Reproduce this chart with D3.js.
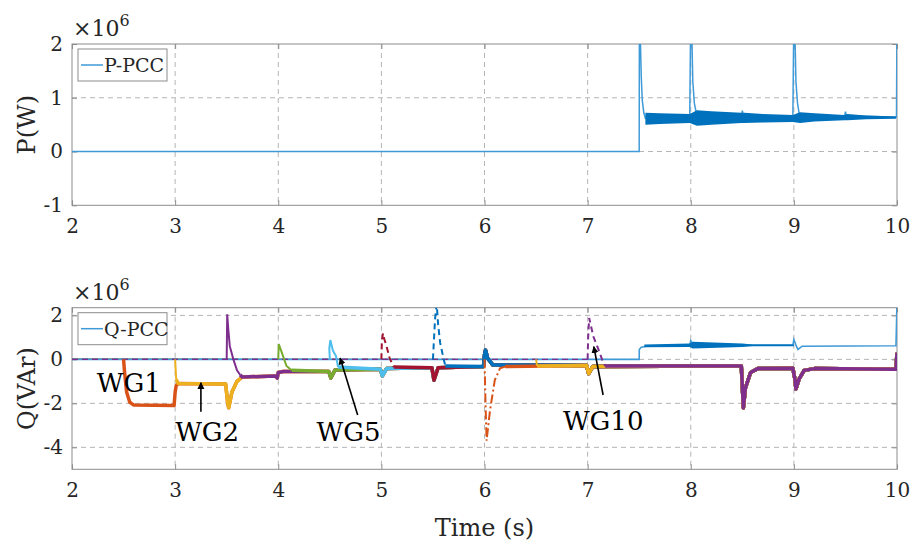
<!DOCTYPE html>
<html>
<head>
<meta charset="utf-8">
<script src="https://cdn.jsdelivr.net/npm/d3@7"></script>
<style>
  body { margin: 0; background: #fff; }
  text { font-family: "DejaVu Serif", serif; fill: #262626; }
</style>
</head>
<body>
<div id="chart"></div>
<script>
// Data (Q and P values in units of 1e6)
const xTicks = [2, 3, 4, 5, 6, 7, 8, 9, 10]
const pTicks = [-1, 0, 1, 2]
const qTicks = [-4, -2, 0, 2]

// P at the PCC
const pccP = [
  [2, 0], [7.5, 0], [7.502, 2.6], [7.51, 2.2], [7.52, 1.4], [7.53, 0.95], [7.545, 0.72], [7.56, 0.62],
  [7.99, 0.62], [8.0, 2.6], [8.01, 2.2], [8.02, 1.3], [8.035, 0.9], [8.05, 0.75], [8.07, 0.65],
  [8.49, 0.63], [8.5, 0.76], [8.51, 0.66], [8.99, 0.62], [9.0, 2.6], [9.01, 2.2], [9.02, 1.3],
  [9.035, 0.9], [9.05, 0.72], [9.07, 0.66], [9.49, 0.64], [9.5, 0.74], [9.51, 0.66], [9.995, 0.64], [10, 2.6]
]
// envelope of the P oscillation
const pBandT  = [7.56, 7.7, 7.99, 8.06, 8.2, 8.49, 8.52, 8.7, 8.99, 9.06, 9.2, 9.49, 9.52, 9.7, 9.99]
const pBandHi = [0.72, 0.71, 0.70, 0.77, 0.75, 0.72, 0.72, 0.70, 0.68, 0.73, 0.71, 0.68, 0.70, 0.67, 0.65]
const pBandLo = [0.50, 0.51, 0.53, 0.48, 0.50, 0.53, 0.53, 0.54, 0.55, 0.53, 0.56, 0.58, 0.58, 0.60, 0.61]

// Q at the PCC
const pccQ = [
  [2, 0], [7.5, 0], [7.501, 0.45], [7.52, 0.55], [7.6, 0.62], [7.99, 0.63], [8.0, 0.85], [8.02, 0.7],
  [8.5, 0.65], [8.99, 0.65], [9.0, 0.9], [9.02, 0.65], [9.04, 0.45], [9.08, 0.6], [9.99, 0.62], [10, 2.6]
]
const qBandT  = [7.55, 7.99, 8.02, 8.5, 8.6, 9.0]
const qBandHi = [0.68, 0.72, 0.80, 0.72, 0.68, 0.68]
const qBandLo = [0.55, 0.56, 0.50, 0.56, 0.60, 0.60]

// common Q of the connected wind generators
const fleetQ = [
  [2.5, 0], [2.51, -0.6], [2.53, -1.5], [2.56, -1.95], [2.6, -2.08], [2.99, -2.1],
  [3.0, -1.5], [3.01, -1.2], [3.03, -1.1], [3.49, -1.12],
  [3.51, -2.0], [3.52, -2.2], [3.55, -1.5], [3.6, -1.0], [3.65, -0.8], [3.97, -0.76], [3.99, -0.85],
  [4.0, -0.6], [4.05, -0.55], [4.49, -0.55], [4.51, -0.85], [4.55, -0.48], [4.99, -0.45],
  [5.01, -0.75], [5.05, -0.42], [5.49, -0.38], [5.51, -0.95], [5.55, -0.38], [5.99, -0.32],
  [6.0, 0.2], [6.01, 0.42], [6.03, 0.05], [6.08, -0.25], [6.99, -0.28], [7.01, -0.65], [7.05, -0.33],
  [8.49, -0.3], [8.5, -1.2], [8.51, -2.2], [8.53, -1.3], [8.58, -0.6], [8.65, -0.42], [8.99, -0.4],
  [9.01, -0.9], [9.02, -1.35], [9.05, -0.9], [9.1, -0.5], [9.2, -0.42], [9.99, -0.45], [10, 0.3]
]

const wgNames = ['WG1', 'WG2', 'WG3', 'WG4', 'WG5', 'WG6', 'WG7', 'WG8', 'WG9', 'WG10']
const wgStart = [2.5, 3.0, 3.5, 4.0, 4.5, 5.0, 5.5, 6.0, 6.5, 7.0]
// connection transient of each generator before it joins the fleet
const wgTransient = [
  [],
  [[3.01, -0.9]],
  [[3.505, 2.05], [3.515, 1.4], [3.53, 0.6], [3.565, 0.0], [3.6, -0.5], [3.63, -0.7]],
  [[4.005, 0.7], [4.02, 0.5], [4.05, 0.1], [4.08, -0.3], [4.13, -0.5]],
  [[4.495, 0.5], [4.505, 0.88], [4.53, 0.4], [4.56, 0.15], [4.58, -0.35]],
  [[5.005, 0.8], [5.015, 1.18], [5.03, 0.9], [5.05, 0.6], [5.08, 0.06], [5.12, -0.35]],
  [[5.52, 1.8], [5.535, 2.5], [5.54, 2.3], [5.55, 1.6], [5.57, 0.75], [5.6, 0.1], [5.62, -0.3]],
  [[6.01, -2.0], [6.02, -3.7], [6.054, -2.3], [6.1, -0.94], [6.15, -0.41], [6.2, -0.33]],
  [[6.51, -0.3]],
  [[7.005, 1.0], [7.015, 1.88], [7.055, 1.05], [7.105, 0.45], [7.14, 0.0], [7.17, -0.3]]
]

// annotations: label, text position, arrow tail, arrow head (data coords)
const notes = [
  { label: 'WG1', text: [2.24, -1.5] },
  { label: 'WG2', text: [3.0, -3.7], tail: [3.25, -2.38], head: [3.25, -1.06] },
  { label: 'WG5', text: [4.37, -3.7], tail: [4.77, -2.53], head: [4.6, 0.06] },
  { label: 'WG10', text: [6.76, -3.21], tail: [7.15, -1.62], head: [7.06, 0.58] }
]

// Styles
const wgColors = ['#D95319', '#EDB120', '#7E2F8E', '#77AC30', '#4DBEEE', '#A2142F', '#0072BD', '#D95319', '#EDB120', '#7E2F8E']
const wgDash = [null, null, null, null, null, '6,4', '6,4', '9,3,2,3', '9,3,2,3', '6,4']
const blue = '#0072BD'
const thinBlue = '#3f9ad8'
const gridColor = '#b4b4b4'
const boxColor = '#8c8c8c'

const width = 913
const height = 542
const left = 72
const right = 897
const panels = [
  { top: 44, bottom: 205.3, domain: [-1, 2], ticks: pTicks, ylabel: 'P(W)', legend: 'P-PCC' },
  { top: 307.7, bottom: 469.3, domain: [-5, 2.35], ticks: qTicks, ylabel: 'Q(VAr)', legend: 'Q-PCC' }
]

const svg = d3.select('#chart')
  .append('svg')
    .attr('width', width)
    .attr('height', height)

const defs = svg.append('defs')
defs.append('marker')
    .attr('id', 'arrow')
    .attr('viewBox', '0 0 10 10')
    .attr('refX', 9)
    .attr('refY', 5)
    .attr('markerWidth', 7)
    .attr('markerHeight', 9)
    .attr('markerUnits', 'userSpaceOnUse')
    .attr('orient', 'auto')
  .append('path')
    .attr('d', 'M0,0 L10,5 L0,10 Z')
    .attr('fill', '#000')

const x = d3.scaleLinear().domain([2, 10]).range([left, right])
const fmt = d => String(d)

const drawPanel = (p, i) => {
  const y = d3.scaleLinear().domain(p.domain).range([p.bottom, p.top])
  const g = svg.append('g')

  defs.append('clipPath')
      .attr('id', 'clip' + i)
    .append('rect')
      .attr('x', left)
      .attr('y', p.top)
      .attr('width', right - left)
      .attr('height', p.bottom - p.top)

  // Grid
  g.selectAll('.vgrid')
    .data(xTicks.slice(1, -1))
    .enter()
    .append('line')
      .attr('x1', d => x(d)).attr('x2', d => x(d))
      .attr('y1', p.top).attr('y2', p.bottom)
      .attr('stroke', gridColor)
      .attr('stroke-dasharray', '5,4')
  g.selectAll('.hgrid')
    .data(p.ticks.filter(d => y(d) > p.top + 1 && y(d) < p.bottom - 1))
    .enter()
    .append('line')
      .attr('x1', left).attr('x2', right)
      .attr('y1', d => y(d)).attr('y2', d => y(d))
      .attr('stroke', gridColor)
      .attr('stroke-dasharray', '5,4')

  // Axes
  const xAxis = g.append('g')
      .attr('transform', `translate(0,${p.bottom})`)
      .call(d3.axisBottom(x).tickValues(xTicks).tickSize(-5).tickPadding(14).tickFormat(fmt))
  const yAxis = g.append('g')
      .attr('transform', `translate(${left},0)`)
      .call(d3.axisLeft(y).tickValues(p.ticks).tickSize(-5).tickPadding(9).tickFormat(fmt))
  g.append('g')
      .attr('transform', `translate(0,${p.top})`)
      .call(d3.axisTop(x).tickValues(xTicks).tickSize(-5).tickFormat(''))
  g.append('g')
      .attr('transform', `translate(${right},0)`)
      .call(d3.axisRight(y).tickValues(p.ticks).tickSize(-5).tickFormat(''))
  g.selectAll('.domain').remove()
  g.selectAll('.tick line').attr('stroke', boxColor)
  xAxis.selectAll('text').attr('font-size', 20)
  yAxis.selectAll('text').attr('font-size', 20)

  g.append('rect')
      .attr('x', left)
      .attr('y', p.top)
      .attr('width', right - left)
      .attr('height', p.bottom - p.top)
      .attr('fill', 'none')
      .attr('stroke', boxColor)

  // Y label and exponent
  g.append('text')
      .attr('transform', `translate(27,${(p.top + p.bottom) / 2}) rotate(-90)`)
      .attr('text-anchor', 'middle')
      .attr('dy', '0.35em')
      .attr('font-size', 24)
      .text(p.ylabel)
  const ex = g.append('text')
      .attr('x', left + 1)
      .attr('y', p.top - 8)
      .attr('font-size', 22)
  ex.append('tspan').text('×10')
  ex.append('tspan').attr('dy', -10).attr('font-size', 16).text('6')

  const plot = svg.append('g').attr('clip-path', `url(#clip${i})`)
  return { y, plot, g }
}

const pPanel = drawPanel(panels[0], 0)
const qPanel = drawPanel(panels[1], 1)

// Top panel: P-PCC, the oscillation band drawn over the trace
pPanel.plot.append('path')
    .datum(pccP)
    .attr('d', d3.line().x(d => x(d[0])).y(d => pPanel.y(d[1])))
    .attr('fill', 'none')
    .attr('stroke', thinBlue)
    .attr('stroke-width', 1.5)
const pBand = pBandT.map((t, k) => ({ t, hi: pBandHi[k], lo: pBandLo[k] }))
pPanel.plot.append('path')
    .datum(pBand)
    .attr('d', d3.area().x(d => x(d.t)).y0(d => pPanel.y(d.lo)).y1(d => pPanel.y(d.hi)))
    .attr('fill', blue)

// Bottom panel: generators and Q-PCC
const qLine = d3.line().x(d => x(d[0])).y(d => qPanel.y(d[1]))
const wgParts = wgNames.map((name, j) => {
  const trans = [[wgStart[j], 0]].concat(wgTransient[j])
  const joinAt = trans[trans.length - 1][0]
  return {
    name,
    idle: [[2, 0], [wgStart[j], 0]],
    trans,
    fleet: [trans[trans.length - 1]].concat(fleetQ.filter(d => d[0] > joinAt))
  }
})
const last = wgParts.length - 1

const drawIdle = j => {
  qPanel.plot.append('path')
      .datum(wgParts[j].idle)
      .attr('d', qLine)
      .attr('fill', 'none')
      .attr('stroke', wgColors[j])
      .attr('stroke-width', 1.4)
      .attr('stroke-dasharray', wgDash[j])
}

// idle (not yet connected) segments at zero, Q-PCC over them, last generator on top
wgParts.slice(0, last).forEach((w, j) => drawIdle(j))

qPanel.plot.append('path')
    .datum(pccQ)
    .attr('d', qLine)
    .attr('fill', 'none')
    .attr('stroke', thinBlue)
    .attr('stroke-width', 1.6)
const qBand = qBandT.map((t, k) => ({ t, hi: qBandHi[k], lo: qBandLo[k] }))
qPanel.plot.append('path')
    .datum(qBand)
    .attr('d', d3.area().x(d => x(d.t)).y0(d => qPanel.y(d.lo)).y1(d => qPanel.y(d.hi)))
    .attr('fill', blue)

drawIdle(last)

// connected: steady band, then the connection transient on top
wgParts.forEach((w, j) => {
  qPanel.plot.append('path')
      .datum(w.fleet)
      .attr('class', 'wg ' + w.name)
      .attr('d', qLine)
      .attr('fill', 'none')
      .attr('stroke', wgColors[j])
      .attr('stroke-width', 3.5)
      .attr('stroke-linejoin', 'round')
  qPanel.plot.append('path')
      .datum(w.trans)
      .attr('d', qLine)
      .attr('fill', 'none')
      .attr('stroke', wgColors[j])
      .attr('stroke-width', 2)
      .attr('stroke-dasharray', wgDash[j])
})

// Legends
panels.forEach(p => {
  const lg = svg.append('g').attr('transform', `translate(78,${p.top + 5})`)
  lg.append('rect')
      .attr('width', 89)
      .attr('height', 32)
      .attr('fill', '#fff')
      .attr('stroke', boxColor)
  lg.append('line')
      .attr('x1', 3).attr('x2', 25)
      .attr('y1', 16).attr('y2', 16)
      .attr('stroke', thinBlue)
      .attr('stroke-width', 1.5)
  lg.append('text')
      .attr('x', 26)
      .attr('y', 23)
      .attr('font-size', 19)
      .text(p.legend)
})

// Annotations
notes.forEach(n => {
  svg.append('text')
      .attr('x', x(n.text[0]))
      .attr('y', qPanel.y(n.text[1]))
      .attr('font-size', 26)
      .style('fill', '#000')
      .text(n.label)
  if (n.tail) {
    svg.append('line')
        .attr('x1', x(n.tail[0])).attr('y1', qPanel.y(n.tail[1]))
        .attr('x2', x(n.head[0])).attr('y2', qPanel.y(n.head[1]))
        .attr('stroke', '#000')
        .attr('stroke-width', 1.6)
        .attr('marker-end', 'url(#arrow)')
  }
})

// X label
svg.append('text')
    .attr('x', (left + right) / 2)
    .attr('y', 536)
    .attr('text-anchor', 'middle')
    .attr('font-size', 24)
    .text('Time (s)')
</script>
</body>
</html>
